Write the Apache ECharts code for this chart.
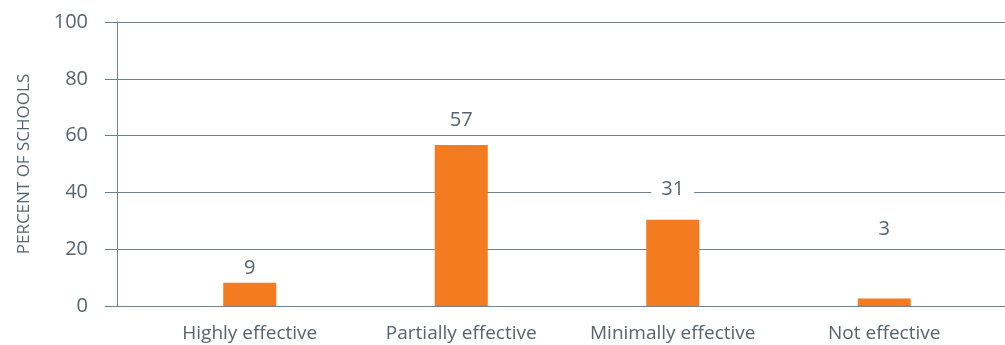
<!DOCTYPE html>
<html>
<head>
<meta charset="utf-8">
<script src="https://cdn.jsdelivr.net/npm/echarts@6/dist/echarts.min.js"></script>
<style>
  html, body { margin: 0; padding: 0; background: #ffffff; }
  #chart { width: 1005px; height: 345px; }
</style>
</head>
<body>
<div id="chart"></div>
<script>
const categories = ['Highly effective', 'Partially effective', 'Minimally effective', 'Not effective'];
const values = [8.2, 56.7, 30.4, 2.6];
const valueLabels = ['9', '57', '31', '3'];
const yTicks = [0, 20, 40, 60, 80, 100];
const yAxisTitle = 'PERCENT OF SCHOOLS';

// label distance above each bar (px), layout only
const labelGap = [4, 15, 20, 59];

const textColor = '#58636e';
const lineColor = '#737f8b';
const barColor = '#F47B20';
const font = '"Open Sans", "Noto Sans", sans-serif';

const chart = echarts.init(document.getElementById('chart'), null, { renderer: 'canvas' });

const option = {
  backgroundColor: '#ffffff',
  animation: false,
  grid: [
    { left: 117, right: 0, top: 22, bottom: 39 },
    { left: 144, right: 15, top: 22, bottom: 39 }
  ],
  xAxis: [
    { type: 'category', gridIndex: 0, data: categories, show: false },
    {
      type: 'category', gridIndex: 1, data: categories,
      axisLine: { show: false }, axisTick: { show: false },
      axisLabel: { interval: 0, hideOverlap: false, color: textColor, fontFamily: font, fontSize: 19, margin: 18 }
    }
  ],
  yAxis: [
    {
      type: 'value', gridIndex: 0,
      min: yTicks[0], max: yTicks[yTicks.length - 1], interval: yTicks[1] - yTicks[0],
      axisLine: { show: true, lineStyle: { color: lineColor, width: 1 } },
      axisTick: { show: true, length: 12, lineStyle: { color: lineColor, width: 1 } },
      splitLine: { show: true, lineStyle: { color: lineColor, width: 1 } },
      axisLabel: { color: textColor, fontFamily: font, fontSize: 20, margin: 29 },
      name: yAxisTitle,
      nameLocation: 'middle',
      nameGap: 84,
      nameTextStyle: { color: textColor, fontFamily: font, fontSize: 17 }
    },
    {
      type: 'value', gridIndex: 1,
      min: yTicks[0], max: yTicks[yTicks.length - 1], interval: yTicks[1] - yTicks[0],
      show: false
    }
  ],
  series: [
    {
      type: 'bar',
      xAxisIndex: 1, yAxisIndex: 1,
      barWidth: 53,
      itemStyle: { color: barColor },
      data: values.map((v, i) => ({
        value: v,
        label: {
          show: true,
          position: 'top',
          distance: labelGap[i],
          formatter: () => valueLabels[i],
          color: textColor,
          fontFamily: font,
          fontSize: 20,
          backgroundColor: '#ffffff',
          padding: [0, 10]
        }
      }))
    }
  ]
};

chart.setOption(option);
</script>
</body>
</html>
